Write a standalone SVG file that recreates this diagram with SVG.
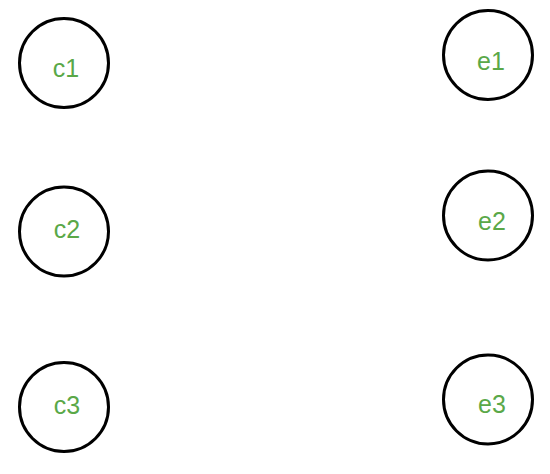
<svg xmlns="http://www.w3.org/2000/svg" width="550" height="474" viewBox="0 0 550 474">
<style>
.n circle{fill:#fff;stroke:#000;stroke-width:3}
.n text{font-family:"Liberation Sans",Arial,sans-serif;font-size:25px;fill:#5aa848;text-anchor:middle}
</style>
<rect width="550" height="474" fill="#fff"/>
<g id="connectors"></g>
<g id="c1" class="n"><circle cx="64" cy="63" r="44.5"/><text x="66" y="77">c1</text></g>
<g id="c2" class="n"><circle cx="64" cy="231.5" r="44.5"/><text x="67" y="238">c2</text></g>
<g id="c3" class="n"><circle cx="64" cy="407" r="44.5"/><text x="67" y="414">c3</text></g>
<g id="e1" class="n"><circle cx="488" cy="55" r="44.5"/><text x="491" y="70">e1</text></g>
<g id="e2" class="n"><circle cx="488" cy="215.5" r="44.5"/><text x="492" y="230">e2</text></g>
<g id="e3" class="n"><circle cx="488" cy="399.5" r="44.5"/><text x="492" y="413">e3</text></g>
</svg>
